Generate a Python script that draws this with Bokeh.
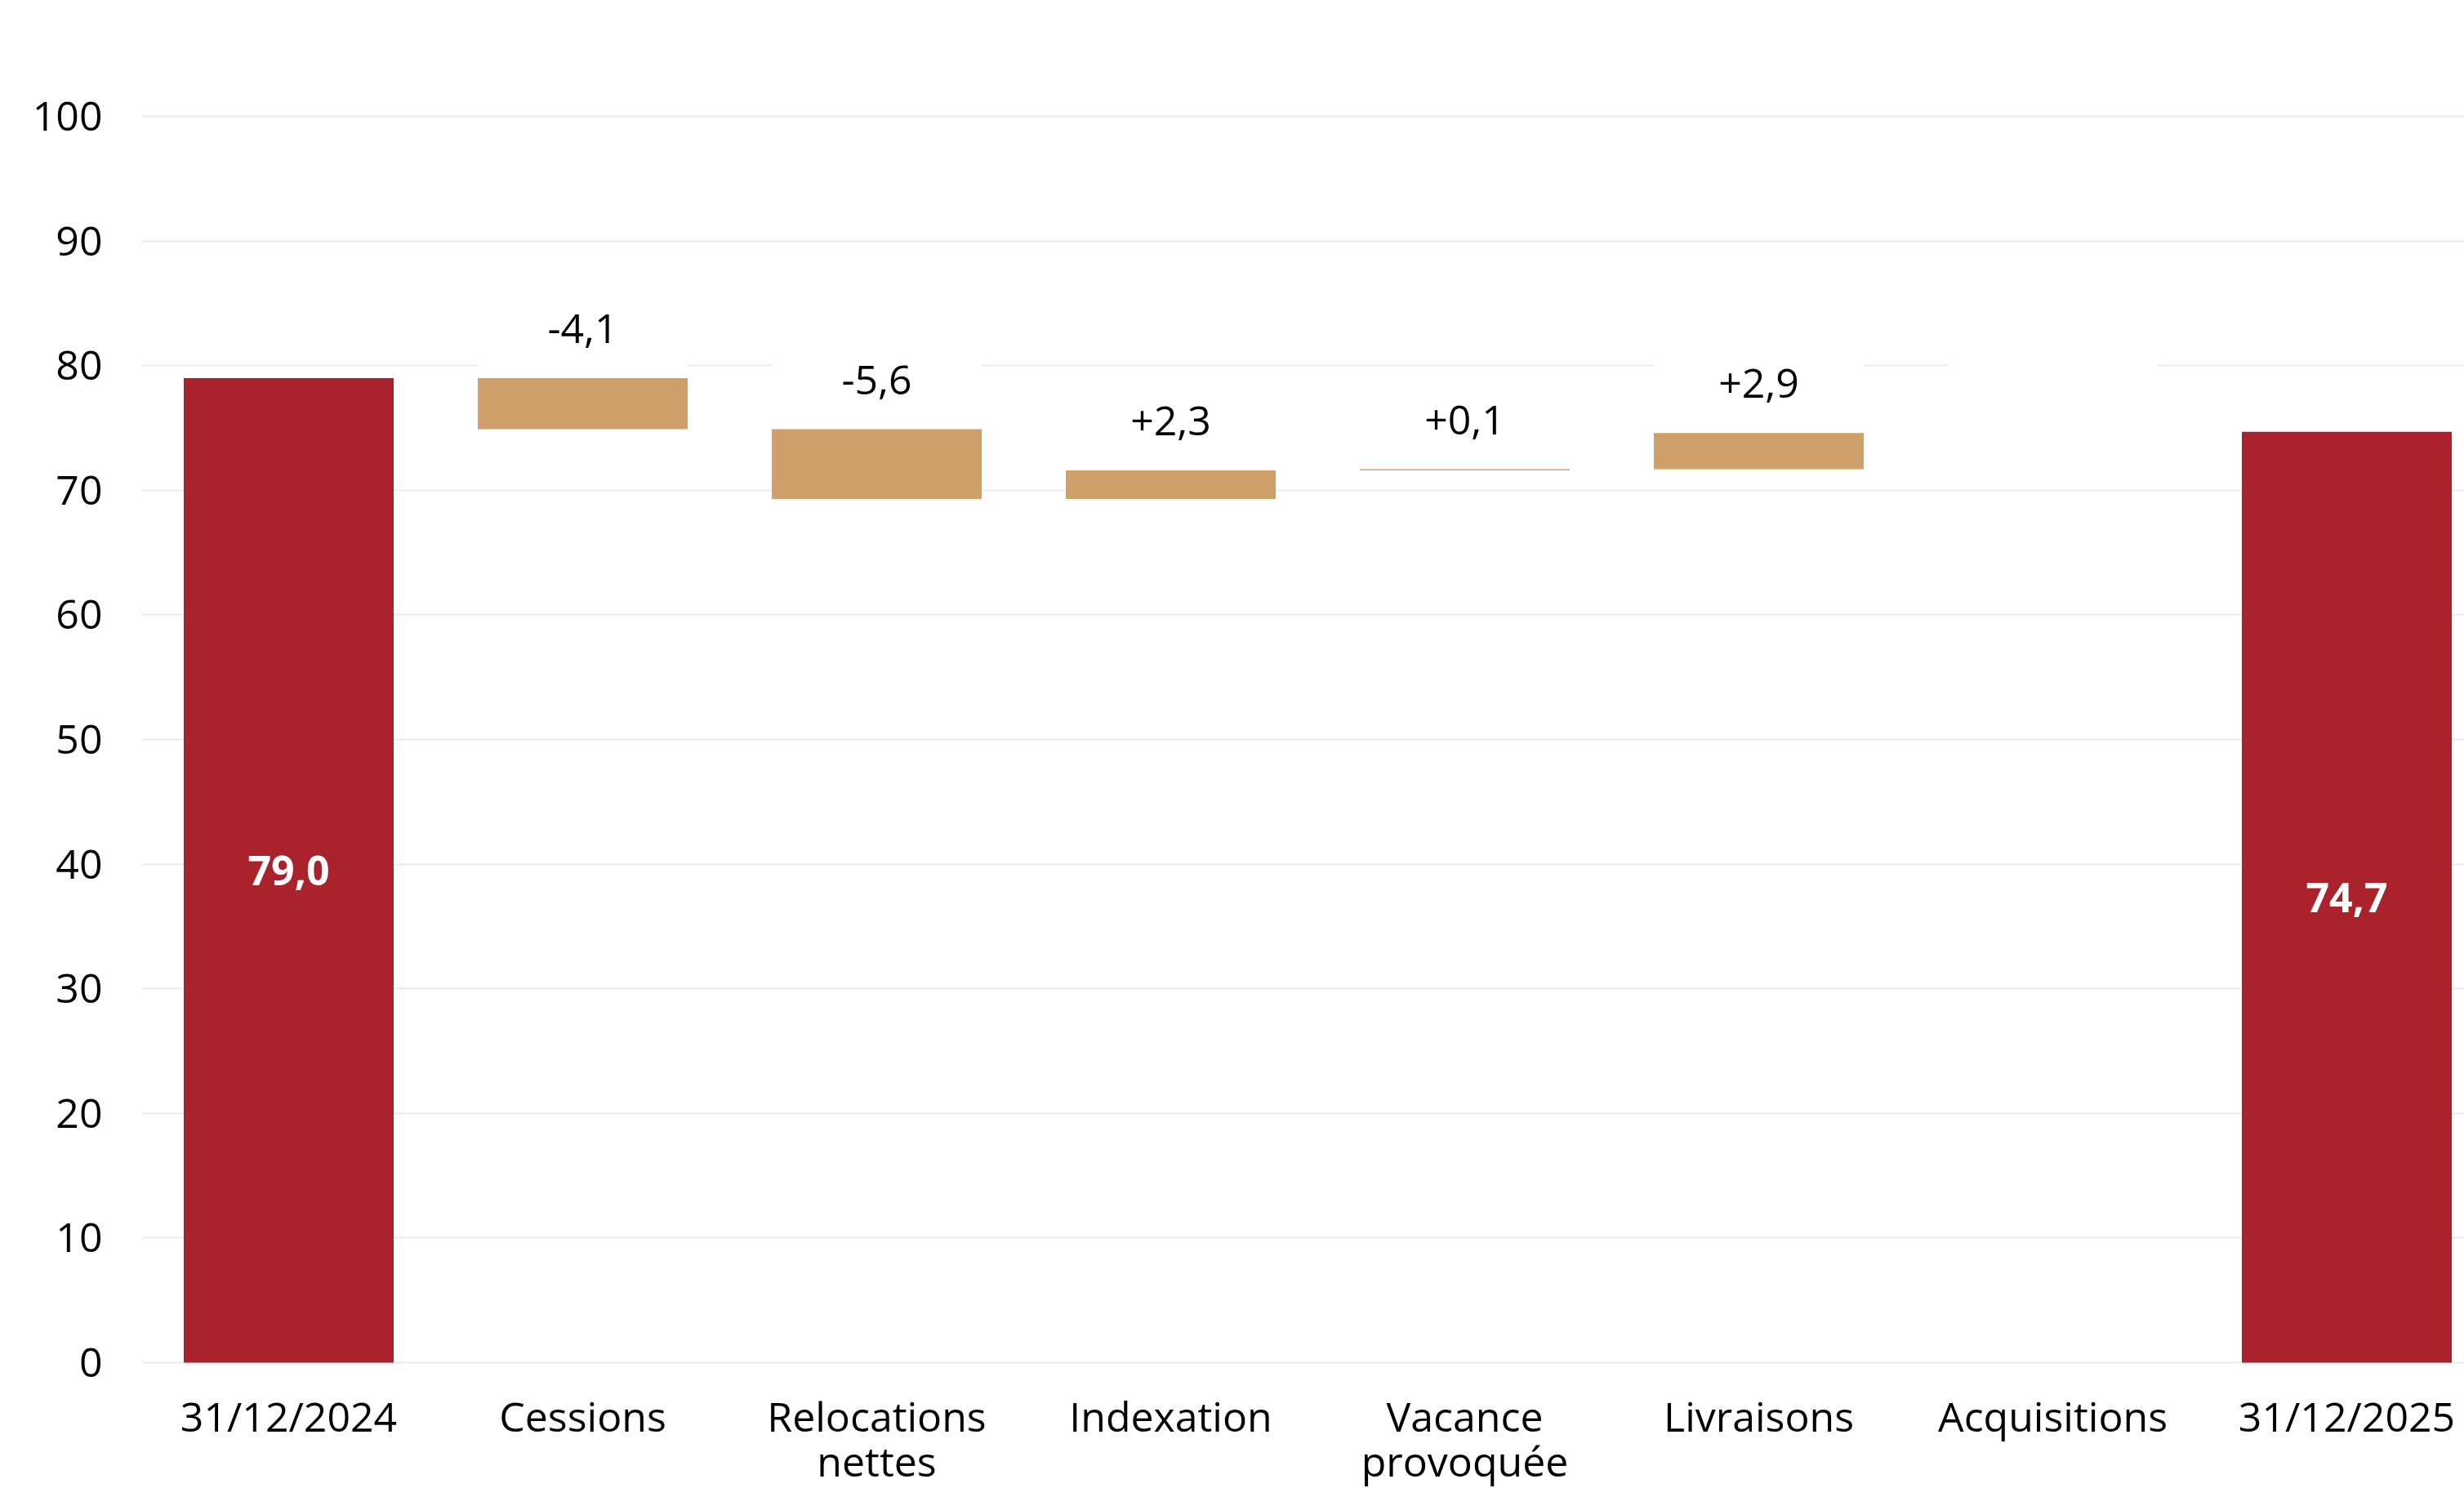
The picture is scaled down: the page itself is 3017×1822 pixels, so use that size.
from bokeh.plotting import figure
from bokeh.models import Range1d, FixedTicker, ColumnDataSource
from bokeh.core.properties import value
from bokeh.embed import file_html
from bokeh.resources import INLINE

# ---- data ----
categories = ["31/12/2024", "Cessions", "Relocations\nnettes", "Indexation",
              "Vacance\nprovoquée", "Livraisons", "Acquisitions", "31/12/2025"]
start_value = 79.0
deltas = [-4.1, -5.6, 2.3, 0.1, 2.9, 0.0]
end_value = 74.7
y_ticks = [0, 10, 20, 30, 40, 50, 60, 70, 80, 90, 100]

RED = "#AA222B"
TAN = "#CFA06A"
GRID = "#EAEAEF"
FONT = "Open Sans"
BAR_W = 0.714


def fmt(v, sign=False):
    s = f"{abs(v):.1f}".replace(".", ",")
    if sign:
        return ("+" if v >= 0 else "-") + s
    return s


# totals
tot_x = [0, len(categories) - 1]
tot_val = [start_value, end_value]
tot_src = ColumnDataSource(dict(
    x=tot_x, top=tot_val, mid=[v / 2 for v in tot_val],
    label=[fmt(v) for v in tot_val]))

# deltas (waterfall)
bottoms, tops, xs, labels = [], [], [], []
running = start_value
for i, d in enumerate(deltas):
    new = running + d
    bottoms.append(min(running, new))
    tops.append(max(running, new))
    xs.append(i + 1)
    labels.append("" if d == 0 else fmt(d, sign=True))
    running = new

LABEL_GAP = 3.95
d_src = ColumnDataSource(dict(
    x=xs, bottom=bottoms, top=tops,
    left=[x - BAR_W / 2 for x in xs], right=[x + BAR_W / 2 for x in xs],
    box_bottom=[t + 0.5 for t in tops], box_top=[t + 7.5 for t in tops],
    label_y=[t + LABEL_GAP for t in tops], label=labels))

# category labels (drawn below the zero line, two lines max)
LINE1_Y = -4.26
LINE2_Y = -7.90
cat_x, cat_y, cat_t = [], [], []
for i, c in enumerate(categories):
    for j, part in enumerate(c.split("\n")):
        cat_x.append(i)
        cat_y.append(LINE1_Y if j == 0 else LINE2_Y)
        cat_t.append(part)
cat_src = ColumnDataSource(dict(x=cat_x, y=cat_y, text=cat_t))

p = figure(width=3017, height=1822,
           x_range=Range1d(-0.5, 7.4), y_range=Range1d(-10.09, 108.13),
           output_backend="svg", toolbar_location=None,
           min_border_left=173, min_border_right=0,
           min_border_top=18, min_border_bottom=0)
p.outline_line_color = None
p.background_fill_color = "white"
p.border_fill_color = "white"

# white label backgrounds (hide gridlines behind labels)
p.quad(left="left", right="right", bottom="box_bottom", top="box_top",
       source=d_src, fill_color="white", line_color=None)

p.vbar(x="x", top="top", width=BAR_W, bottom=0, source=tot_src,
       fill_color=RED, line_color=None)
p.vbar(x="x", top="top", bottom="bottom", width=BAR_W, source=d_src,
       fill_color=TAN, line_color=None)

p.text(x="x", y="label_y", text="label", source=d_src,
       text_font=value(FONT), text_font_size="50px", text_color="black",
       text_align="center", text_baseline="middle")
p.text(x="x", y="mid", text="label", source=tot_src,
       text_font=value(FONT), text_font_size="50px", text_font_style="bold",
       text_color="white", text_align="center", text_baseline="middle")
p.text(x="x", y="y", text="text", source=cat_src,
       text_font=value(FONT), text_font_size="50px", text_color="black",
       text_align="center", text_baseline="middle")

# axes
p.xaxis.visible = False
p.yaxis.ticker = FixedTicker(ticks=y_ticks)
ax = p.yaxis[0]
ax.axis_line_color = None
ax.major_tick_line_color = None
ax.minor_tick_line_color = None
ax.major_label_text_font = FONT
ax.major_label_text_font_size = "50px"
ax.major_label_text_color = "black"
ax.major_label_standoff = 42

p.xgrid.grid_line_color = None
p.ygrid.grid_line_color = GRID
p.ygrid.grid_line_width = 2

open("out.html", "w").write(file_html(p, INLINE))
